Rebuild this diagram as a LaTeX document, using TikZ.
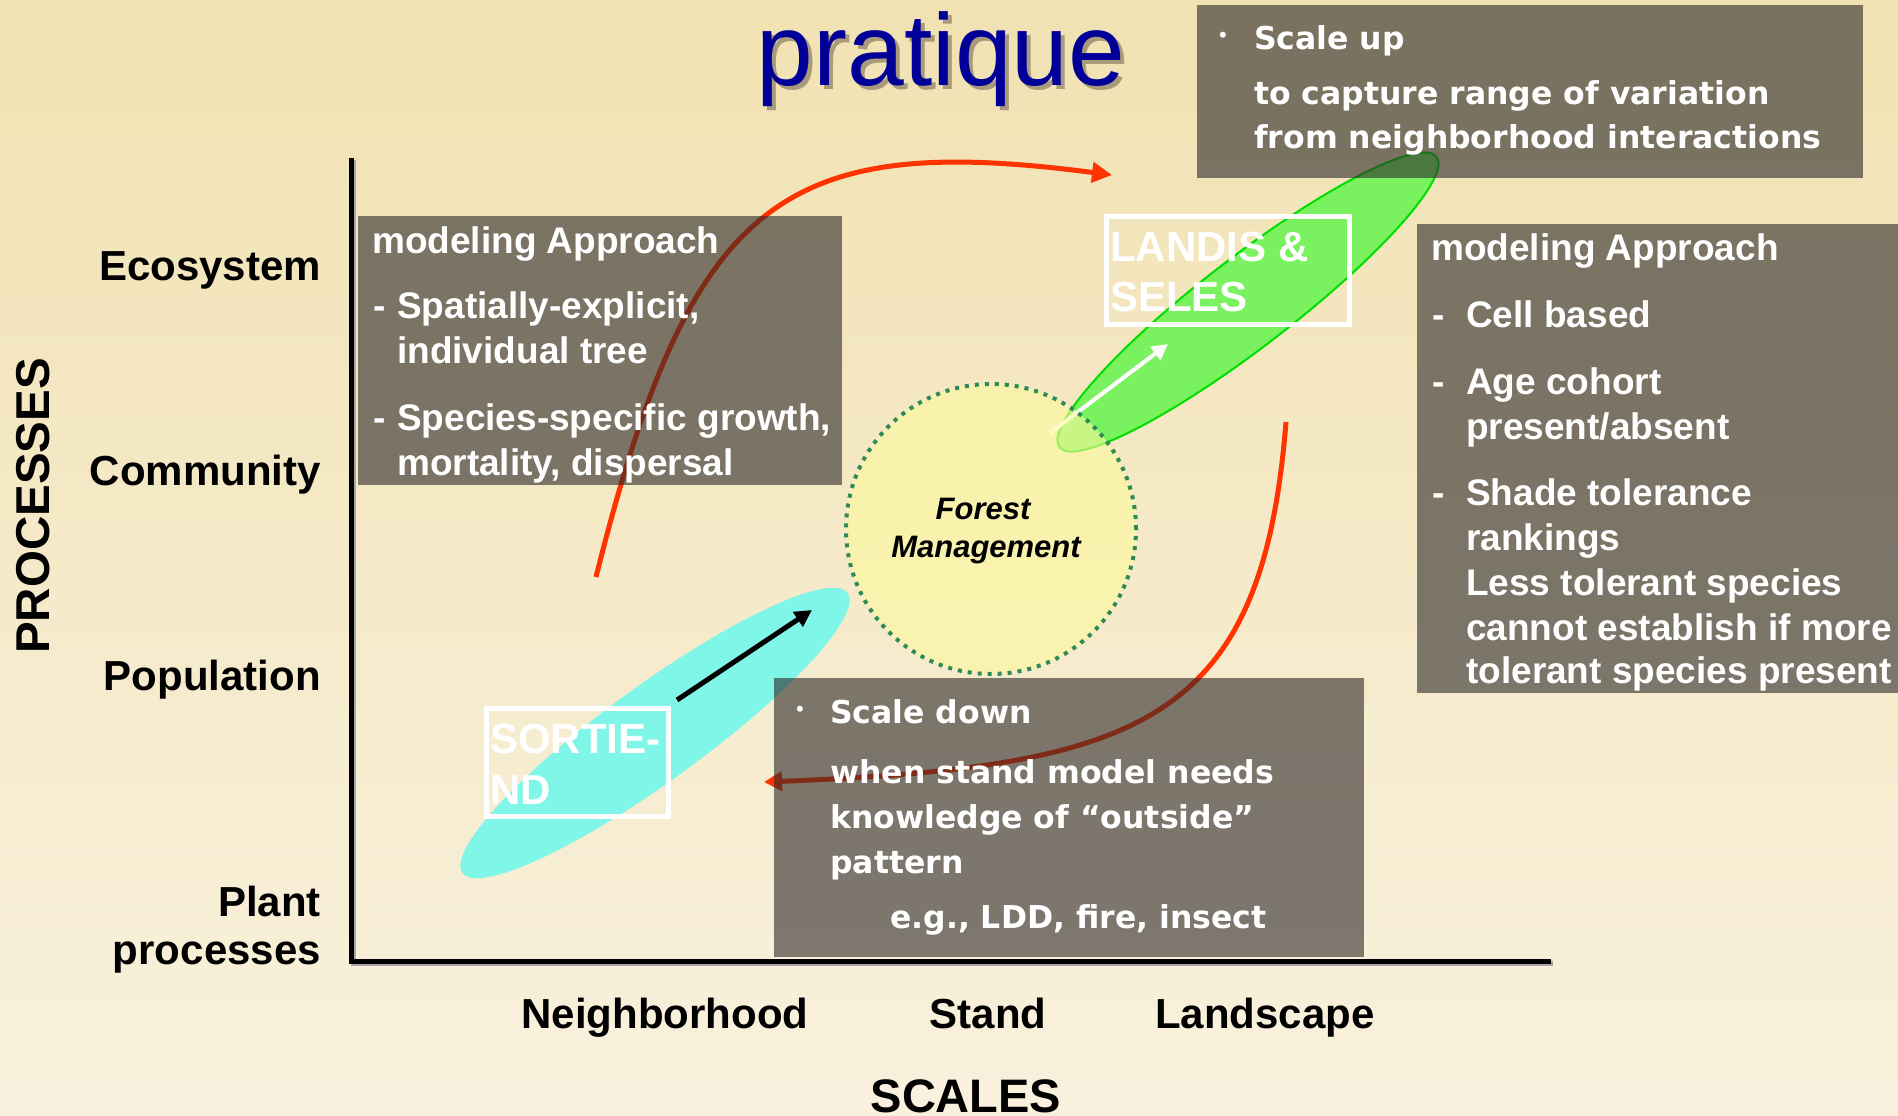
\documentclass[tikz,border=0pt]{standalone}
\usepackage{fontspec}
\setmainfont{Liberation Sans}
\newfontfamily\handfont{DejaVu Sans}
\usetikzlibrary{arrows.meta,shapes.geometric}

\definecolor{bgtop}{RGB}{241,226,178}
\definecolor{bgbot}{RGB}{249,241,222}
\definecolor{panel}{RGB}{43,39,40}
\definecolor{titleblue}{RGB}{0,0,153}
\definecolor{titleshade}{RGB}{168,154,122}
\definecolor{arc}{RGB}{255,51,0}
\definecolor{cyanfill}{RGB}{127,246,232}
\definecolor{greenfill}{RGB}{122,242,96}
\definecolor{greenedge}{RGB}{0,222,0}
\definecolor{sun}{RGB}{252,249,157}
\definecolor{dotgreen}{RGB}{46,139,87}

\begin{document}
\begin{tikzpicture}[x=1pt,y=-1pt,
  panelbox/.style={rectangle, fill=panel, fill opacity=0.6, draw=none, inner sep=0pt, anchor=north west},
  paneltext/.style={text=white, anchor=base west, inner sep=0pt, font=\fontsize{37}{44}\selectfont\bfseries},
  handtext/.style={text=white, anchor=base west, inner sep=0pt, font=\handfont\fontsize{31.5}{38}\selectfont\bfseries},
  handdot/.style={text=white, anchor=base west, inner sep=0pt, font=\fontsize{22}{26}\selectfont},
  levellabel/.style={anchor=base east, inner sep=0pt, font=\fontsize{42}{48}\selectfont\bfseries},
  scalelabel/.style={anchor=base, inner sep=0pt, font=\fontsize{42}{48}\selectfont\bfseries},
  redarrow/.style={draw=arc, line width=5pt},
  modelframe/.style={draw=white, line width=5pt},
  modelname/.style={text=white, anchor=base west, inner sep=0pt, font=\fontsize{42}{48}\selectfont\bfseries}
]
% page and background
\useasboundingbox (0,0) rectangle (1898,1116);
\shade[top color=bgtop, bottom color=bgbot] (0,0) rectangle (1898,1116);

% title with its drop shadow
\node[anchor=base, inner sep=0pt, text=titleblue, font=\fontsize{102}{110}\selectfont] (title) at (941,85)
  {\rlap{\kern4pt\raisebox{-4pt}{\color{titleshade}pratique}}pratique};

% axes
\coordinate (ytop) at (351,158);
\coordinate (origin) at (351,961);
\coordinate (xend) at (1551,961);
\draw[black!35, line width=5pt] ([shift={(2,2)}]ytop) -- ([shift={(2,2)}]origin) -- ([shift={(2,2)}]xend);
\draw[black, line width=5pt] (ytop) -- (origin) -- (xend);

% axis labels
\node[levellabel] (eco) at (321,280) {Ecosystem};
\node[levellabel] (com) at (321,485) {Community};
\node[levellabel] (pop) at (321,690) {Population};
\node[levellabel] (plant) at (321,916) {Plant};
\node[levellabel] (plantproc) at (321,964) {processes};
\node[rotate=90, inner sep=0pt, font=\fontsize{47.5}{52}\selectfont\bfseries] (processes) at (33,506) {PROCESSES};

\node[scalelabel] (nbh) at (665,1028) {Neighborhood};
\node[scalelabel] (stand) at (988,1028) {Stand};
\node[scalelabel] (land) at (1265,1028) {Landscape};
\node[anchor=base, inner sep=0pt, font=\fontsize{47}{52}\selectfont\bfseries] (scales) at (966,1112) {SCALES};

% scaling curves
\coordinate (upstart) at (596,577);
\coordinate (upend) at (1112,175);
\coordinate (downstart) at (1286,422);
\coordinate (downend) at (764,782);
\draw[redarrow, -{Triangle[length=20pt,width=20pt]}] (upstart) .. controls (691,197) and (782,132) .. (upend);
\draw[redarrow, -{Triangle[length=18pt,width=19pt]}] (downstart) .. controls (1262,722) and (1144,767) .. (downend);

% model domains
\node[ellipse, minimum width=476pt, minimum height=96pt, inner sep=0pt, rotate=36, fill=cyanfill] (sortieblob) at (655,733) {};
\node[ellipse, minimum width=476pt, minimum height=90pt, inner sep=0pt, rotate=37.6, fill=greenfill, draw=greenedge, line width=2pt] (landisblob) at (1248,302) {};

\coordinate (sortiefrom) at (677,700);
\coordinate (sortieto) at (812,610);
\draw[black, line width=5pt, -{Triangle[length=17pt,width=17pt]}] (sortiefrom) -- (sortieto);
\coordinate (landisfrom) at (1050,433);
\coordinate (landisto) at (1168,344);
\draw[white, line width=4pt, -{Triangle[length=16pt,width=16pt]}] (landisfrom) -- (landisto);

% forest management
\node[circle, minimum size=290pt, inner sep=0pt, fill=sun, fill opacity=0.6, draw=dotgreen, draw opacity=1, line width=4pt, dash pattern=on 4pt off 6pt] (fm) at (991,529) {};
\node[inner sep=0pt, anchor=base, font=\fontsize{31}{36}\selectfont\bfseries\itshape] (fm1) at (983,519) {Forest};
\node[inner sep=0pt, anchor=base, font=\fontsize{31}{36}\selectfont\bfseries\itshape] (fm2) at (986,557) {Management};

% model name frames
\draw[modelframe] (486.8,708.2) rectangle (668.2,816.2);
\node[modelname] (sortie1) at (490,753) {SORTIE-};
\node[modelname] (sortie2) at (490,804) {ND};
\draw[modelframe] (1106.8,216.5) rectangle (1349.2,324.8);
\node[modelname] (landis1) at (1110,261) {LANDIS \&};
\node[modelname] (landis2) at (1110,311) {SELES};

% text panels
\node[panelbox, minimum width=484pt, minimum height=269pt] (leftpanel) at (358,216) {};
\node[panelbox, minimum width=666pt, minimum height=173pt] (uppanel) at (1197,5) {};
\node[panelbox, minimum width=481pt, minimum height=469pt] (rightpanel) at (1417,224) {};
\node[panelbox, minimum width=590pt, minimum height=279pt] (downpanel) at (774,678) {};

% left panel
\node[paneltext] (l0) at (372,253) {modeling Approach};
\node[paneltext] (l1d) at (373,318) {-};
\node[paneltext] (l1) at (397,318) {Spatially-explicit,};
\node[paneltext] (l2) at (397,363) {individual tree};
\node[paneltext] (l3d) at (373,430) {-};
\node[paneltext] (l3) at (397,430) {Species-specific growth,};
\node[paneltext] (l4) at (397,475) {mortality, dispersal};

% right panel
\node[paneltext] (r0) at (1431,260) {modeling Approach};
\node[paneltext] (r1d) at (1432,327) {-};
\node[paneltext] (r1) at (1466,327) {Cell based};
\node[paneltext] (r2d) at (1432,394) {-};
\node[paneltext] (r2) at (1466,394) {Age cohort};
\node[paneltext] (r3) at (1466,439) {present/absent};
\node[paneltext] (r4d) at (1432,505) {-};
\node[paneltext] (r4) at (1466,505) {Shade tolerance};
\node[paneltext] (r5) at (1466,550) {rankings};
\node[paneltext] (r6) at (1466,595) {Less tolerant species};
\node[paneltext] (r7) at (1466,640) {cannot establish if more};
\node[paneltext] (r8) at (1466,683) {tolerant species present};

% scale up panel
\node[handdot] (u0d) at (1219,43) {•};
\node[handtext] (u0) at (1254,50) {Scale up};
\node[handtext] (u1) at (1254,104) {to capture range of variation};
\node[handtext] (u2) at (1254,148) {from neighborhood interactions};

% scale down panel
\node[handdot] (d0d) at (796,716) {•};
\node[handtext] (d0) at (830,723) {Scale down};
\node[handtext] (d1) at (830,783) {when stand model needs};
\node[handtext] (d2) at (830,828) {knowledge of “outside”};
\node[handtext] (d3) at (830,873) {pattern};
\node[handtext] (d4) at (890,928) {e.g., LDD, fire, insect};
\end{tikzpicture}
\end{document}
